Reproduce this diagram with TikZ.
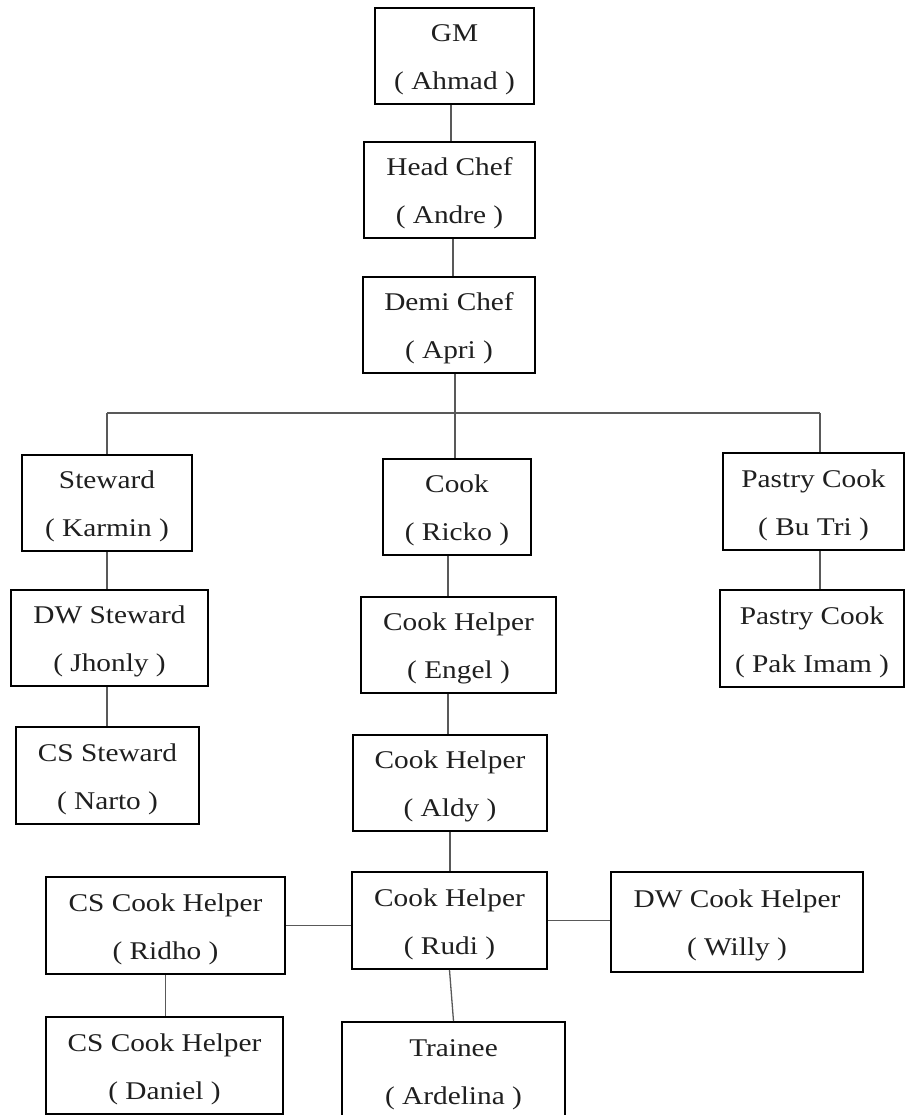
\documentclass[tikz,border=0pt]{standalone}
\usepackage{fontspec}
\setmainfont{Liberation Serif}[FakeStretch=1.15]
\usetikzlibrary{calc}
\newcommand\pairtext[2]{\begin{tabular}{@{}c@{}}#1\\#2\end{tabular}}
\tikzset{
  box/.style={draw=black, line width=2pt, rectangle, inner sep=0pt, anchor=center,
    font=\fontsize{25.5}{48}\selectfont, text=black!88},
  link/.style={draw=black!65, line width=1.3pt},
}
\begin{document}
\begin{tikzpicture}[x=1pt,y=-1pt]
\clip (0,0) rectangle (907,1115);
\fill[white] (0,0) rectangle (907,1115);
% boxes
\node[box, minimum width=159pt, minimum height=96pt] (gm) at (454.5,56) {\pairtext{GM}{( Ahmad )}};
\node[box, minimum width=171pt, minimum height=96pt] (hc) at (449.5,190) {\pairtext{Head Chef}{( Andre )}};
\node[box, minimum width=172pt, minimum height=92pt] (dc) at (449,325) {\pairtext{Demi Chef}{( Apri )}};
\node[box, minimum width=170pt, minimum height=96pt] (st) at (107,503) {\pairtext{Steward}{( Karmin )}};
\node[box, minimum width=148pt, minimum height=96pt] (ck) at (457,507) {\pairtext{Cook}{( Ricko )}};
\node[box, minimum width=181pt, minimum height=97pt] (bt) at (813.5,501.5) {\pairtext{Pastry Cook}{( Bu Tri )}};
\node[box, minimum width=197pt, minimum height=94pt] (dw) at (109.5,638) {\pairtext{DW Steward}{( Jhonly )}};
\node[box, minimum width=195pt, minimum height=96pt] (eg) at (458.5,645) {\pairtext{Cook Helper}{( Engel )}};
\node[box, minimum width=184pt, minimum height=97pt] (pi) at (812,638.5) {\pairtext{Pastry Cook}{( Pak Imam )}};
\node[box, minimum width=183pt, minimum height=97pt] (cs) at (107.5,775.5) {\pairtext{CS Steward}{( Narto )}};
\node[box, minimum width=194pt, minimum height=95pt] (al) at (450,782.5) {\pairtext{Cook Helper}{( Aldy )}};
\node[box, minimum width=239pt, minimum height=97pt] (ri) at (165.5,925.5) {\pairtext{CS Cook Helper}{( Ridho )}};
\node[box, minimum width=195pt, minimum height=97pt] (rd) at (449.5,920.5) {\pairtext{Cook Helper}{( Rudi )}};
\node[box, minimum width=252pt, minimum height=100pt] (wi) at (737,922) {\pairtext{DW Cook Helper}{( Willy )}};
\node[box, minimum width=237pt, minimum height=97pt] (da) at (164.5,1065.5) {\pairtext{CS Cook Helper}{( Daniel )}};
\node[box, minimum width=223pt, minimum height=97pt] (tr) at (453.5,1070.5) {\pairtext{Trainee}{( Ardelina )}};
% helper coordinates
\coordinate (g1) at ([xshift=-3.5pt]gm.south);
\coordinate (h1) at ([xshift=3.5pt]hc.south);
\coordinate (d1) at ([xshift=6pt]dc.south);
\coordinate (bus) at (455,413);
\coordinate (busL) at (107,413);
\coordinate (busR) at (820,413);
\coordinate (c1) at ([xshift=-9pt]ck.south);
% connectors
\draw[link] (g1) -- (g1 |- hc.north);
\draw[link] (h1) -- (h1 |- dc.north);
\draw[link] (d1) -- (bus);
\draw[link] (busL) -- (busR);
\draw[link] (busL) -- (st.north);
\draw[link] (bus) -- (bus |- ck.north);
\draw[link] (busR) -- (busR |- bt.north);
\draw[link] (st.south) -- (st.south |- dw.north);
\draw[link] (st.south |- dw.south) -- (st.south |- cs.north);
\draw[link] (c1) -- (c1 |- eg.north);
\draw[link] (c1 |- eg.south) -- (c1 |- al.north);
\draw[link] (al.south) -- (al.south |- rd.north);
\draw[link] (busR |- bt.south) -- (busR |- pi.north);
\draw[link] (ri.east) -- (ri.east -| rd.west);
\draw[link] (rd.east) -- (rd.east -| wi.west);
\draw[link] (ri.south) -- (ri.south |- da.north);
\draw[link] (rd.south) -- (tr.north);
\end{tikzpicture}
\end{document}
